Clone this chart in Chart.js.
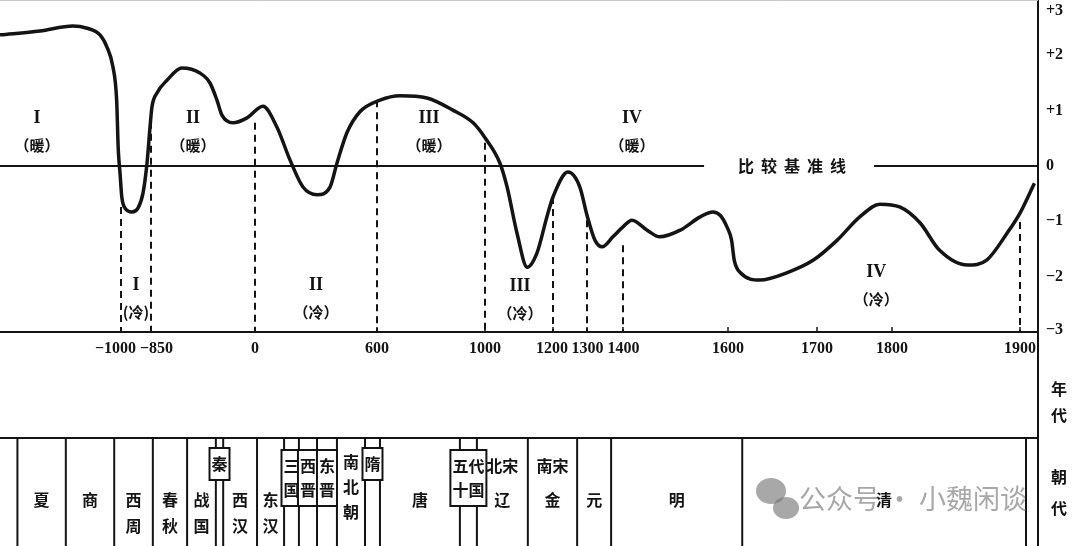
<!DOCTYPE html>
<html lang="zh">
<head>
<meta charset="UTF-8">
<title>中国近五千年来气温变化</title>
<script src="https://cdn.jsdelivr.net/npm/chart.js"></script>
<style>
  html, body { margin: 0; padding: 0; background: #fff; }
  #wrap { width: 1080px; height: 546px; }
</style>
</head>
<body>
<div id="wrap"><canvas id="tempChart" width="1080" height="546"></canvas></div>
<script>
// temperature curve (year, anomaly in °C vs the comparison baseline)
const years = [-2250, -1837, -1496, -1351, -1217, -1145, -1083, -1045, -1028, -1010, -996, -980, -945, -915, -890, -870, -855, -842,
  -801, -719, -597, -450, -368, -311, -270, -180, -65, 39, 108, 172, 236, 305, 369, 403, 452, 516, 611, 685, 785, 881, 956,
  1000, 1044, 1065, 1094, 1124, 1153, 1182, 1200, 1244, 1279, 1300, 1322, 1342, 1372, 1400, 1417, 1446, 1470, 1509, 1547,
  1571, 1585, 1598, 1604, 1607, 1614, 1636, 1666, 1696, 1727, 1757, 1784, 1806, 1822, 1837, 1859, 1874, 1890, 1900, 1912];
const anomaly = [2.37, 2.44, 2.53, 2.49, 2.37, 2.15, 1.79, 1.19, 0.29, -0.13, -0.56, -0.76, -0.83, -0.76, -0.49, 0.05, 0.70, 1.07,
  1.32, 1.55, 1.77, 1.68, 1.50, 1.19, 0.92, 0.78, 0.87, 1.08, 0.70, 0.11, -0.38, -0.52, -0.38, 0.05, 0.60, 0.98, 1.19, 1.27, 1.23, 1.01, 0.78,
  0.51, 0.05, -0.38, -1.21, -1.83, -1.57, -0.92, -0.56, -0.11, -0.38, -0.89, -1.34, -1.46, -1.28, -1.10, -0.98, -1.16, -1.28, -1.16, -0.92,
  -0.83, -0.89, -1.10, -1.34, -1.70, -1.93, -2.06, -1.93, -1.70, -1.34, -0.92, -0.69, -0.74, -1.03, -1.52, -1.79, -1.70, -1.21, -0.85, -0.31];

const tickYears = [-1000, -850, 0, 600, 1000, 1200, 1300, 1400, 1600, 1700, 1800, 1900];
const valueTicks = [3, 2, 1, 0, -1, -2, -3];

// dashed period boundaries: year and the value where the dash starts
const dashYears = [-1000, -850, 0, 600, 1000, 1200, 1300, 1400, 1900];
const dashTops = [-0.74, 0.80, 0.78, 1.19, 0.42, -0.56, -0.98, -1.43, -1.01];

// warm / cold period labels
const periodNumerals = ['I', 'II', 'III', 'IV', 'I', 'II', 'III', 'IV'];
const periodWords = ['（暖）', '（暖）', '（暖）', '（暖）', '(冷)', '（冷）', '（冷）', '（冷）'];
const periodYears = [-1868, -507, 793, 1417, -925, 300, 1103, 1779];
const periodValues = [0.87, 0.87, 0.87, 0.87, -2.15, -2.15, -2.17, -1.92];

const baselineNote = '比较基准线';
const baselineNoteYear = 1672;

// dynasty table, edges as drawn in the figure (read on the year axis)
const dynastyNames = ['夏', '商', '西|周', '春|秋', '战|国', '秦', '西|汉', '东|汉', '三|国', '西|晋', '东|晋', '南|北|朝',
  '隋', '唐', '五代|十国', '北宋|辽', '南宋|金', '元', '明', '清'];
const dynastyEdges = [-2070, -1570, -1070, -835, -555, -320, -260, 10, 143, 216, 305, 403, 541, 611, 907, 970, 1126, 1271, 1367, 1616, 1905];
const boxedDynasties = ['秦', '三|国', '西|晋', '东|晋', '隋', '五代|十国'];

// the figure's year axis is stretched unevenly: where each year sits across the plot width
const axisYears = [-2250, -1000, -850, 0, 600, 1000, 1200, 1300, 1400, 1600, 1700, 1800, 1900, 1915];
const axisFractions = [0, 121, 151, 255, 377, 485, 553, 587, 623, 728, 817, 892, 1020, 1038].map(p => p / 1038);

function interp(v, xs, ys) {
  let i = 1;
  while (i < xs.length - 1 && v > xs[i]) i++;
  const t = (v - xs[i - 1]) / (xs[i] - xs[i - 1]);
  return ys[i - 1] + t * (ys[i] - ys[i - 1]);
}

class FigureYearScale extends Chart.LinearScale {
  getPixelForValue(value) {
    return this.getPixelForDecimal(interp(value, axisYears, axisFractions));
  }
  getValueForPixel(pixel) {
    return interp(this.getDecimalForPixel(pixel), axisFractions, axisYears);
  }
}
FigureYearScale.id = 'figureYear';
FigureYearScale.defaults = Chart.LinearScale.defaults;
Chart.register(FigureYearScale);

const INK = '#141414';
const CJK = '"Noto Sans CJK SC", sans-serif';
const SERIF = '"Liberation Serif", "DejaVu Serif", serif';

const figureDecor = {
  id: 'figureDecor',
  afterDraw(chart) {
    const { ctx, chartArea: a, scales: { x, y } } = chart;
    const H = chart.height;
    ctx.save();
    ctx.strokeStyle = INK;
    ctx.fillStyle = INK;
    ctx.textBaseline = 'middle';

    // faint top edge
    ctx.strokeStyle = '#c8c8c8';
    ctx.lineWidth = 1;
    ctx.beginPath(); ctx.moveTo(a.left, 0.5); ctx.lineTo(a.right, 0.5); ctx.stroke();
    ctx.strokeStyle = INK;

    // comparison baseline with its note
    const y0 = y.getPixelForValue(0);
    const cx = x.getPixelForValue(baselineNoteYear);
    const pitch = 23;
    const half = (baselineNote.length - 1) * pitch / 2;
    ctx.lineWidth = 2;
    ctx.beginPath();
    ctx.moveTo(a.left, y0); ctx.lineTo(cx - half - 42, y0);
    ctx.moveTo(cx + half + 36, y0); ctx.lineTo(a.right, y0);
    ctx.stroke();
    ctx.font = 'bold 16px ' + CJK;
    ctx.textAlign = 'center';
    [...baselineNote].forEach((ch, i) => ctx.fillText(ch, cx - half + i * pitch, y0));

    // year ticks and labels, nudged apart where they would touch
    ctx.lineWidth = 1.5;
    ctx.font = 'bold 16px ' + SERIF;
    const items = tickYears.map(v => {
      const text = v < 0 ? '−' + (-v) : String(v);
      const px = x.getPixelForValue(v);
      ctx.beginPath(); ctx.moveTo(px, a.bottom); ctx.lineTo(px, a.bottom - 5); ctx.stroke();
      return { text, px, w: ctx.measureText(text).width };
    });
    for (let i = 1; i < items.length; i++) {
      const p = items[i - 1], c = items[i];
      const overlap = (p.px + p.w / 2 + 4) - (c.px - c.w / 2);
      if (overlap > 0) { p.px -= overlap / 2; c.px += overlap / 2; }
    }
    items.forEach(it => ctx.fillText(it.text, it.px, a.bottom + 17));

    // value labels on the right
    ctx.textAlign = 'left';
    valueTicks.forEach(v => {
      const text = v > 0 ? '+' + v : v < 0 ? '−' + (-v) : '0';
      ctx.fillText(text, a.right + 8, Math.min(Math.max(y.getPixelForValue(v), 11), a.bottom - 2));
    });

    // period labels
    ctx.textAlign = 'center';
    periodNumerals.forEach((n, i) => {
      const px = x.getPixelForValue(periodYears[i]);
      const py = y.getPixelForValue(periodValues[i]);
      ctx.font = 'bold 18px ' + SERIF;
      ctx.fillText(n, px, py);
      ctx.font = 'bold 15px ' + CJK;
      ctx.fillText(periodWords[i], px, py + 27);
    });

    // right border runs down through the year and dynasty rows
    ctx.lineWidth = 2;
    ctx.beginPath(); ctx.moveTo(a.right, a.bottom); ctx.lineTo(a.right, H); ctx.stroke();

    ctx.font = 'bold 16px ' + CJK;
    ctx.fillText('年', a.right + 21, 389);
    ctx.fillText('代', a.right + 21, 415);
    ctx.fillText('朝', a.right + 21, 477);
    ctx.fillText('代', a.right + 21, 508);

    // dynasty table
    const top = a.bottom + 106;
    ctx.beginPath(); ctx.moveTo(a.left, top); ctx.lineTo(a.right, top); ctx.stroke();
    const edgePx = dynastyEdges.map(v => x.getPixelForValue(v));
    ctx.beginPath();
    edgePx.forEach(px => { ctx.moveTo(px, top); ctx.lineTo(px, H); });
    ctx.stroke();

    dynastyNames.forEach((name, i) => {
      const lines = name.split('|');
      const mid = (edgePx[i] + edgePx[i + 1]) / 2;
      let rows;
      if (boxedDynasties.includes(name)) {
        rows = lines.map((_, k) => (lines.length === 1 ? 464 : 466) + k * 24);
        const w = Math.max(...lines.map(l => ctx.measureText(l).width)) + 4;
        const h = lines.length * 24 + 8;
        const cy = (rows[0] + rows[rows.length - 1]) / 2;
        ctx.fillStyle = '#fff';
        ctx.fillRect(mid - w / 2, cy - h / 2, w, h);
        ctx.strokeRect(mid - w / 2, cy - h / 2, w, h);
        ctx.fillStyle = INK;
      } else if (lines.length === 3) {
        rows = [462, 487, 512];
      } else if (lines.length === 2 && lines[0].length === 2) {
        rows = [466, 500];
      } else if (lines.length === 2) {
        rows = [500, 526];
      } else {
        rows = [500];
      }
      lines.forEach((l, k) => ctx.fillText(l, mid, rows[k]));
    });

    // watermark
    ctx.fillStyle = 'rgba(110,110,110,0.6)';
    ctx.beginPath(); ctx.ellipse(771, 491, 15, 13, 0, 0, Math.PI * 2); ctx.fill();
    ctx.beginPath(); ctx.ellipse(786, 508, 13, 11, 0, 0, Math.PI * 2); ctx.fill();
    ctx.font = '27px ' + CJK;
    ctx.textAlign = 'left';
    ctx.fillText('公众号 · 小魏闲谈', 799, 499);
    ctx.restore();
  }
};

const curve = {
  data: years.map((yr, i) => ({ x: yr, y: anomaly[i] })),
  borderColor: INK,
  borderWidth: 3.5,
  pointRadius: 0,
  cubicInterpolationMode: 'monotone',
  fill: false
};
const dashes = dashYears.map((yr, i) => ({
  data: [{ x: yr, y: dashTops[i] }, { x: yr, y: -3 }],
  borderColor: INK,
  borderWidth: 2,
  borderDash: [7, 5],
  pointRadius: 0,
  fill: false
}));

new Chart(document.getElementById('tempChart').getContext('2d'), {
  type: 'line',
  data: { datasets: [curve, ...dashes] },
  options: {
    responsive: false,
    animation: false,
    layout: { padding: 0 },
    plugins: { legend: { display: false }, tooltip: { enabled: false } },
    scales: {
      x: {
        type: 'figureYear', min: -2250, max: 1915,
        grid: { display: false, drawTicks: false },
        ticks: { display: false },
        border: { display: true, color: INK, width: 2 },
        afterFit: s => { s.height = 214; }
      },
      y: {
        position: 'right', min: -3, max: 3,
        grid: { display: false, drawTicks: false },
        ticks: { display: false },
        border: { display: true, color: INK, width: 2 },
        afterFit: s => { s.width = 42; }
      }
    }
  },
  plugins: [figureDecor]
});
</script>
</body>
</html>
